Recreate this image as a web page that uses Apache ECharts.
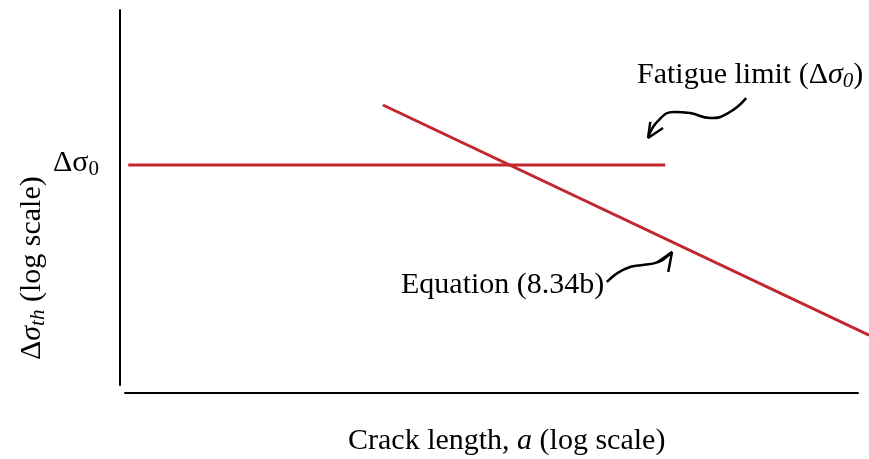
<!DOCTYPE html>
<html lang="en">
<head>
    <meta charset="UTF-8">
    <title>Threshold stress range vs crack length</title>
    <style>
        html, body { margin: 0; padding: 0; background: #fff; }
        #chart { width: 869px; height: 459px; }
    </style>
</head>
<body>
    <div id="chart"></div>
    <script src="https://cdn.jsdelivr.net/npm/echarts@6/dist/echarts.min.js"></script>
    <script>
        // schematic units: both axes 0..100 (log scale, no numbers)
        const limitX = [1.1, 72.8];       // fatigue limit, horizontal
        const limitY = [59.5, 59.5];
        const eqX = [35.1, 100];          // Equation (8.34b), sloped
        const eqY = [75.2, 15.1];

        // curly arrows (annotation)
        const fatArrowX = [83.6, 81.2, 78.8, 76.1, 74.0, 71.8, 70.5];
        const fatArrowY = [77.0, 73.1, 71.8, 73.1, 73.4, 71.0, 66.6];
        const fatHeadX = [70.8, 70.5, 72.5];
        const fatHeadY = [70.8, 66.6, 69.2];
        const eqArrowX = [65.0, 66.4, 68.1, 69.8, 71.4, 72.4, 73.7];
        const eqArrowY = [29.0, 31.3, 32.9, 33.4, 33.9, 34.7, 36.8];
        const eqHeadX = [71.8, 73.7, 73.2];
        const eqHeadY = [34.2, 36.8, 31.6];

        const RED = '#c1272d';
        const FONT = 'Liberation Serif';
        const FS = 30;

        function pairs(xs, ys) {
            return xs.map((x, i) => [x, ys[i]]);
        }

        const chart = echarts.init(document.getElementById('chart'));

        const hidden = { show: false };
        function plainAxis(idx, showLine) {
            return {
                type: 'value', gridIndex: idx, min: 0, max: 100,
                axisLine: { show: showLine, lineStyle: { color: '#000', width: 2 } },
                axisTick: hidden, axisLabel: hidden, splitLine: hidden
            };
        }

        const italic = { fontFamily: FONT, fontSize: FS, fontStyle: 'italic' };
        const sub = { fontFamily: FONT, fontSize: 21, verticalAlign: 'bottom', padding: [12, 0, 0, 0] };
        const subItalic = Object.assign({}, sub, { fontStyle: 'italic' });

        chart.setOption({
            animation: false,
            grid: [
                { left: 120, right: 0, top: 10, bottom: 66 },   // data
                { left: 120, width: 1, top: 10, bottom: 74 },   // y axis line
                { left: 125, right: 11, bottom: 66, height: 1 } // x axis line
            ],
            xAxis: [plainAxis(0, false), plainAxis(1, false), plainAxis(2, true)],
            yAxis: [plainAxis(0, false), plainAxis(1, true), plainAxis(2, false)],
            series: [
                {
                    type: 'line', data: pairs(limitX, limitY), symbol: 'none',
                    lineStyle: { color: RED, width: 3 }
                },
                {
                    type: 'line', data: pairs(eqX, eqY), symbol: 'none',
                    lineStyle: { color: RED, width: 3 }
                },
                {
                    type: 'line', data: pairs(fatArrowX, fatArrowY), symbol: 'none', smooth: 0.5,
                    lineStyle: { color: '#000', width: 2.5 }
                },
                {
                    type: 'line', data: pairs(fatHeadX, fatHeadY), symbol: 'none',
                    lineStyle: { color: '#000', width: 2.5 }
                },
                {
                    type: 'line', data: pairs(eqArrowX, eqArrowY), symbol: 'none', smooth: 0.3,
                    lineStyle: { color: '#000', width: 2.5 }
                },
                {
                    type: 'line', data: pairs(eqHeadX, eqHeadY), symbol: 'none',
                    lineStyle: { color: '#000', width: 2.5 }
                }
            ],
            graphic: [
                {
                    type: 'text', x: 348, y: 441,
                    style: {
                        text: 'Crack length, {i|a} (log scale)',
                        font: FS + 'px ' + FONT, fill: '#000',
                        verticalAlign: 'middle',
                        rich: { i: italic }
                    }
                },
                {
                    type: 'text', x: 32, y: 360, rotation: Math.PI / 2,
                    style: {
                        text: 'Δ{i|σ}{sub|th} (log scale)',
                        font: FS + 'px ' + FONT, fill: '#000',
                        verticalAlign: 'middle',
                        rich: { i: italic, sub: subItalic }
                    }
                },
                {
                    type: 'text', x: 53, y: 163,
                    style: {
                        text: 'Δσ{sub|0}',
                        font: FS + 'px ' + FONT, fill: '#000',
                        verticalAlign: 'middle',
                        rich: { sub: sub }
                    }
                },
                {
                    type: 'text', x: 637, y: 75,
                    style: {
                        text: 'Fatigue limit (Δ{i|σ}{sub|0})',
                        font: FS + 'px ' + FONT, fill: '#000',
                        verticalAlign: 'middle',
                        rich: { i: italic, sub: subItalic }
                    }
                },
                {
                    type: 'text', x: 401, y: 285,
                    style: {
                        text: 'Equation (8.34b)',
                        font: FS + 'px ' + FONT, fill: '#000',
                        verticalAlign: 'middle'
                    }
                }
            ]
        });
    </script>
</body>
</html>
